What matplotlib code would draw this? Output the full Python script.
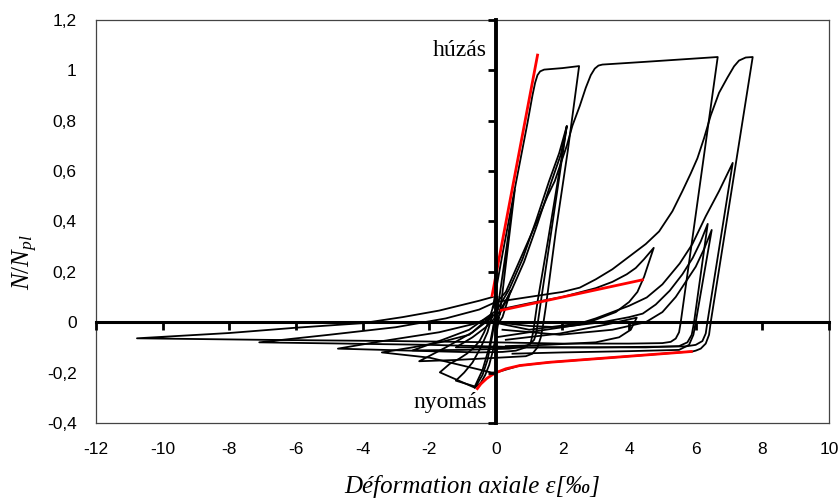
import matplotlib.pyplot as plt
import numpy as np

plt.rcParams['mathtext.fontset'] = 'custom'
plt.rcParams['mathtext.it'] = 'Liberation Serif:italic'
plt.rcParams['mathtext.rm'] = 'Liberation Serif'

# axis ticks
x_ticks = [-12, -10, -8, -6, -4, -2, 0, 2, 4, 6, 8, 10]
y_ticks = [-0.4, -0.2, 0, 0.2, 0.4, 0.6, 0.8, 1.0, 1.2]
y_tick_labels = ['-0,4', '-0,2', '0', '0,2', '0,4', '0,6', '0,8', '1', '1,2']

# red model lines (strain in per mille, N/Npl)
red_elastic_eps = [-0.12, 1.26]
red_elastic_n = [0.10, 1.065]
red_hard_eps = [0.12, 4.44]
red_hard_n = [0.046, 0.169]
red_comp_eps = [-0.58, -0.45, -0.27, -0.1, 0.03, 0.3, 0.72, 1.2, 1.62, 3.12, 5.91]
red_comp_n = [-0.268, -0.245, -0.223, -0.208, -0.199, -0.185, -0.172, -0.165, -0.159, -0.144, -0.116]

# measured hysteresis branches
buckle1_eps = [0.05, -0.1, -0.25, -0.4, -0.63, -1.68, -1.38, -1.1, -0.87, -0.65, -0.48, -0.35, -0.24, -0.09]
buckle1_n = [0.1, -0.05, -0.15, -0.21, -0.26, -0.199, -0.165, -0.145, -0.125, -0.1, -0.073, -0.04, -0.005, 0.058]
buckle2_eps = [0.1, 0.0, -0.1, -0.2, -0.32, -0.45, -0.63]
buckle2_n = [0.02, -0.06, -0.12, -0.17, -0.21, -0.24, -0.26]
buckle3_eps = [-0.05, -0.2, -0.4, -0.63, -1.2, -0.95, -0.7, -0.45, -0.25, -0.1]
buckle3_n = [0.0, -0.1, -0.19, -0.255, -0.232, -0.2, -0.16, -0.1, -0.04, 0.03]

spike_eps = [0.02, 0.57, 0.12]
spike_n = [0.02, 0.525, 0.03]

loop1_eps = [-0.09, 0.2, 0.6, 0.95, 1.1, 1.18, 1.25, 1.33, 1.45, 2.0, 2.5, 2.16, 1.8, 1.5, 1.42,
             1.35, 1.25, 1.1, 0.9, 0.2, -0.5, -1.2, -2.3, -1.5, -0.7, -0.1]
loop1_n = [0.058, 0.27, 0.55, 0.79, 0.9, 0.95, 0.98, 0.995, 1.002, 1.008, 1.016, 0.68, 0.36, 0.06, -0.01,
           -0.06, -0.1, -0.125, -0.135, -0.14, -0.145, -0.15, -0.155, -0.1, -0.04, 0.03]

loop2_eps = [-0.09, 0.3, 0.7, 1.0, 1.3, 1.55, 1.77, 1.95, 2.13, 2.3, 2.52, 2.7, 2.85, 2.97, 3.08, 3.2,
             4.5, 6.66, 5.55, 5.5, 5.4, 5.25, 5.0, 4.0, 2.0, 0.0, -3.0, -7.0, -10.77,
             -8.0, -6.0, -4.0, -2.8, -1.7, -0.5, -0.09]
loop2_n = [0.06, 0.12, 0.24, 0.33, 0.42, 0.5, 0.56, 0.63, 0.7, 0.78, 0.858, 0.93, 0.98, 1.006, 1.018, 1.022,
           1.033, 1.052, 0.0, -0.04, -0.065, -0.078, -0.083, -0.085, -0.085, -0.08, -0.075, -0.07, -0.064,
           -0.043, -0.022, -0.004, 0.02, 0.046, 0.085, 0.1]

loop78a_eps = [0.0, 0.4, 0.8, 1.2, 1.6, 1.9, 2.13, 1.56, 1.25, 1.12, 1.05, 0.9, 0.6, 0.2, -0.5, -2.0,
               -4.74, -3.4, -1.7, -0.6, 0.0]
loop78a_n = [0.04, 0.13, 0.25, 0.4, 0.56, 0.67, 0.778, 0.32, 0.08, -0.04, -0.08, -0.1, -0.113, -0.118, -0.12,
             -0.115, -0.105, -0.075, -0.04, -0.005, 0.03]
loop78b_eps = [0.05, 0.45, 0.85, 1.25, 1.65, 1.95, 2.13, 1.62, 1.35, 1.22, 1.15, 1.0, 0.7, 0.4, -1.0,
               -2.5, -1.6, -0.8, -0.05]
loop78b_n = [0.03, 0.12, 0.24, 0.39, 0.55, 0.665, 0.778, 0.32, 0.08, -0.04, -0.07, -0.09, -0.1, -0.105,
             -0.11, -0.112, -0.07, -0.03, 0.04]

loop3_eps = [0.0, 0.5, 1.0, 1.5, 2.0, 2.52, 3.0, 3.5, 4.0, 4.5, 4.9, 5.3, 5.6, 5.85, 6.05, 6.25, 6.45,
             6.7, 6.95, 7.15, 7.3, 7.5, 7.71, 6.45, 6.4, 6.3, 6.15, 6.0, 5.91, 3.12, 1.62, 0.72,
             0.03, -0.12, -1.98, -3.42, -2.5, -1.68, -0.8, -0.1]
loop3_n = [0.08, 0.09, 0.1, 0.11, 0.12, 0.137, 0.17, 0.21, 0.26, 0.31, 0.36, 0.44, 0.52, 0.59, 0.65, 0.73,
           0.82, 0.91, 0.97, 1.015, 1.038, 1.05, 1.052, 0.0, -0.05, -0.085, -0.105, -0.113, -0.116, -0.144,
           -0.159, -0.172, -0.199, -0.2, -0.141, -0.12, -0.1, -0.08, -0.05, 0.02]

peak63_eps = [-0.09, 1.0, 2.52, 3.0, 3.5, 4.0, 4.53, 5.0, 5.52, 5.9, 6.3, 6.7, 7.11, 6.35, 6.3, 6.2,
              6.0, 5.7, 5.0, 3.0, 1.0, -2.0, -4.5, -7.1, -5.0, -3.0, -1.5, -0.5, 0.0]
peak63_n = [0.0, -0.03, -0.005, 0.015, 0.04, 0.065, 0.098, 0.15, 0.233, 0.31, 0.42, 0.52, 0.632, 0.0,
            -0.045, -0.075, -0.09, -0.096, -0.097, -0.1, -0.1, -0.09, -0.085, -0.08, -0.05, -0.02, 0.015,
            0.05, 0.08]

peak39_eps = [0.0, 1.0, 1.92, 3.2, 4.0, 4.41, 4.8, 5.22, 5.6, 5.91, 6.15, 6.36, 5.95, 5.88, 5.75, 5.5,
              4.5, 3.0, 1.5, 0.0, -1.2, -0.7, -0.3, 0.0]
peak39_n = [0.0, -0.015, -0.02, 0.0, 0.02, 0.034, 0.07, 0.125, 0.19, 0.255, 0.32, 0.39, 0.0, -0.05, -0.08,
            -0.095, -0.1, -0.1, -0.1, -0.1, -0.1, -0.06, -0.02, 0.02]

peak37_eps = [0.2, 1.92, 3.5, 4.5, 5.0, 5.4, 5.75, 6.0, 6.25, 6.48, 6.0, 5.93, 5.8, 5.5, 4.0, 2.0, 0.5]
peak37_n = [-0.03, -0.05, -0.03, 0.0, 0.04, 0.1, 0.17, 0.22, 0.29, 0.366, 0.0, -0.05, -0.09, -0.11, -0.115,
            -0.12, -0.125]

peak30_eps = [0.1, 1.0, 2.0, 3.0, 3.5, 3.93, 4.2, 4.45, 4.74, 4.6, 4.45, 4.25, 4.0, 3.6, 3.0, 2.5, 1.0, 0.0]
peak30_n = [0.05, 0.075, 0.1, 0.135, 0.16, 0.19, 0.215, 0.25, 0.295, 0.24, 0.18, 0.12, 0.08, 0.04, 0.01,
            -0.01, -0.04, -0.06]

peak02_eps = [0.3, 1.92, 3.3, 4.23, 4.05, 3.7, 3.0, 1.5, 0.3]
peak02_n = [-0.07, -0.045, -0.01, 0.018, -0.03, -0.06, -0.08, -0.09, -0.095]

small_eps = [0.0, 0.45, 0.2, 0.0]
small_n = [0.0, 0.125, 0.02, -0.02]

black_branches = [
    (buckle1_eps, buckle1_n), (buckle2_eps, buckle2_n), (buckle3_eps, buckle3_n),
    (spike_eps, spike_n), (loop1_eps, loop1_n), (loop2_eps, loop2_n),
    (loop78a_eps, loop78a_n), (loop78b_eps, loop78b_n), (loop3_eps, loop3_n),
    (peak63_eps, peak63_n), (peak39_eps, peak39_n), (peak37_eps, peak37_n),
    (peak30_eps, peak30_n), (peak02_eps, peak02_n), (small_eps, small_n),
]
red_branches = [
    (red_elastic_eps, red_elastic_n), (red_hard_eps, red_hard_n), (red_comp_eps, red_comp_n),
]

W, H = 838, 499
fig = plt.figure(figsize=(W / 100, H / 100), dpi=100)
rect = [96 / W, 1 - 423 / H, (829 - 96) / W, (423 - 19.7) / H]

# frame axes with the tick labels on the outside
ax = fig.add_axes(rect)
ax.set_xlim(-12, 10)
ax.set_ylim(-0.4, 1.2)
ax.set_xticks(x_ticks)
ax.set_xticklabels([str(v) for v in x_ticks])
ax.set_yticks(y_ticks)
ax.set_yticklabels(y_tick_labels)
ax.tick_params(length=0, labelsize=12.5, pad=14)
for lab in ax.get_xticklabels() + ax.get_yticklabels():
    lab.set_fontfamily('Liberation Sans')
for s in ax.spines.values():
    s.set_color('#444444')
    s.set_linewidth(0.9)

# overlay axes: the zero lines with tick marks
ax2 = fig.add_axes(rect, sharex=ax, sharey=ax)
ax2.patch.set_visible(False)
ax2.spines['top'].set_visible(False)
ax2.spines['right'].set_visible(False)
ax2.spines['bottom'].set_position(('data', 0))
ax2.spines['left'].set_position(('data', 0))
ax2.spines['bottom'].set_linewidth(2.2)
ax2.spines['left'].set_linewidth(2.8)
ax2.tick_params(direction='out', length=6, width=2, labelbottom=False, labelleft=False)

for e, n in black_branches:
    ax.plot(e, n, color='black', lw=1.3, solid_joinstyle='round')
for e, n in red_branches:
    ax.plot(e, n, color='#ff0000', lw=2.0, solid_capstyle='butt', solid_joinstyle='round')

ax2.text(-0.27, 1.056, 'húzás', ha='right', va='baseline', fontsize=17, family='Liberation Serif')
ax2.text(-0.27, -0.342, 'nyomás', ha='right', va='baseline', fontsize=17, family='Liberation Serif')

fig.text(472 / W, 1 - 486 / H, 'Déformation axiale ε[‰]', ha='center', va='center',
         fontsize=18, style='italic', family='Liberation Serif')
fig.text(25 / W, 1 - 262 / H, r'$N/N_{pl}$', ha='center', va='center', rotation=90, fontsize=18)

fig.savefig('out.png', dpi=100)
